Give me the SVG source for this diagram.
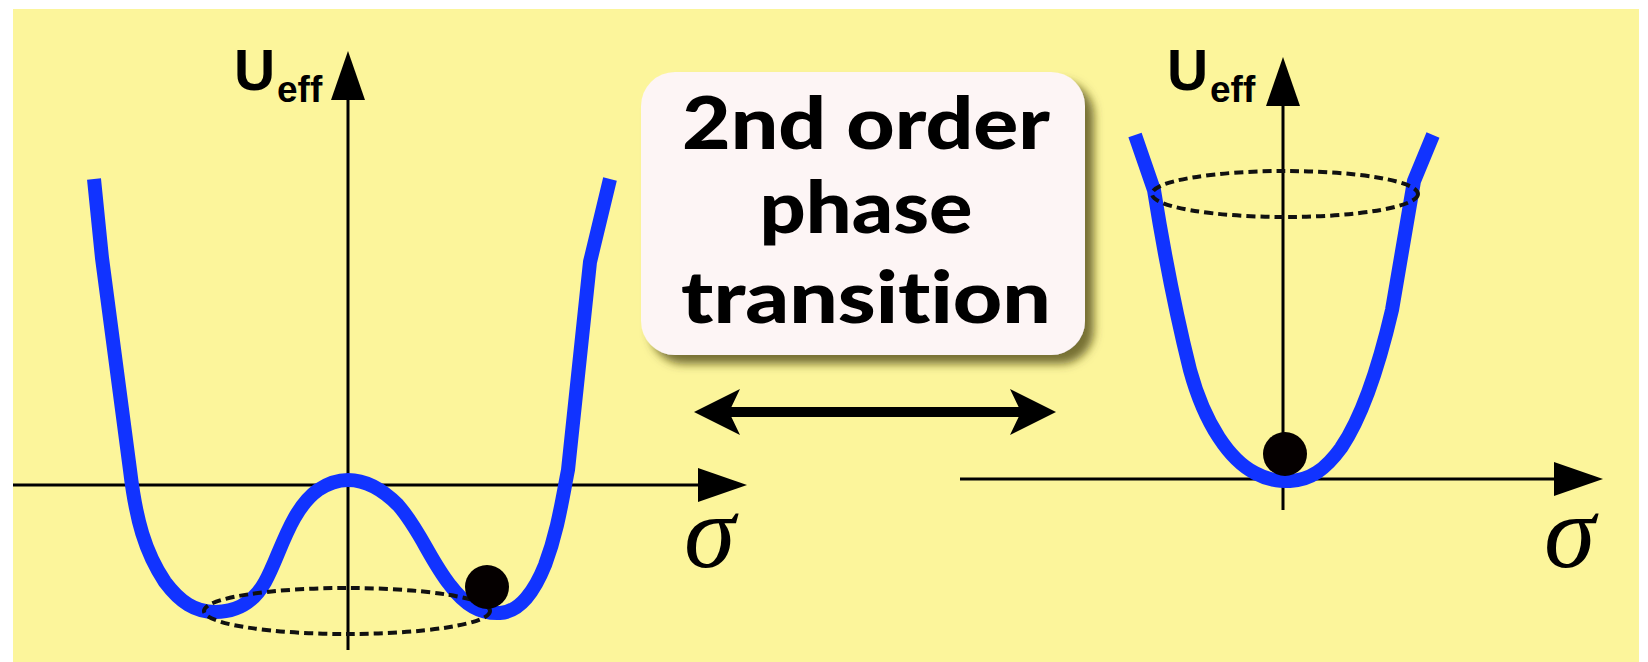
<svg xmlns="http://www.w3.org/2000/svg" width="1648" height="662" viewBox="0 0 1648 662">
  <style>
    .axis { stroke: #000; stroke-width: 3; fill: none; }
    .head { fill: #000; }
    .curve { stroke: #1133ff; stroke-width: 14; fill: none; stroke-linejoin: round; stroke-linecap: butt; }
    .ring { stroke: #111; stroke-width: 4; fill: none; stroke-dasharray: 9 5; }
    .ball { fill: #050000; }
    .ulab { font-family: "Liberation Sans", Arial, sans-serif; font-weight: bold; fill: #000; }
    .sig { font-family: "Liberation Serif", "Times New Roman", serif; font-style: italic; font-size: 104px; fill: #000; }
    .box-text { font-family: Lato, "Open Sans", sans-serif; font-weight: 900; font-size: 72px; fill: #000; text-anchor: middle; font-variant-ligatures: none; font-feature-settings: "liga" 0; }
  </style>
  <defs>
    <path id="axis-head" d="M0,0 L-17,49 L17,49 Z"/>
    <path id="dbl-head" d="M0,0 L46,-23 L35,0 L46,23 Z"/>
    <filter id="shadow" x="-10%" y="-10%" width="130%" height="140%">
      <feDropShadow dx="9" dy="9" stdDeviation="5" flood-color="#4a4410" flood-opacity="0.75"/>
    </filter>
  </defs>

  <rect x="13" y="9" width="1626" height="653" fill="#fcf59b"/>

  <g id="left-plot">
    <line class="axis" x1="13" y1="485" x2="705" y2="485"/>
    <use href="#axis-head" class="head" transform="translate(747,485) rotate(90)"/>
    <line class="axis" x1="348" y1="98" x2="348" y2="650"/>
    <use href="#axis-head" class="head" transform="translate(348,51)"/>
    <text class="ulab" x="234" y="90" font-size="57">U</text>
    <text class="ulab" x="277" y="102" font-size="37">eff</text>
    <text class="sig" x="684" y="567">σ</text>
    <path class="curve" d="M94,179 L102,258 L130,470 C136,520 145,552 165,582 C180,602 195,612 215,612 C240,612 255,600 265,582 C280,555 290,510 318,490 C330,482 340,480 348,480 C362,480 380,487 398,505 C420,530 430,560 450,585 C465,605 480,614 500,613 C520,612 535,590 545,565 C558,530 562,500 568,470 L590,262 L610,179"/>
    <ellipse class="ring" cx="347" cy="611" rx="143" ry="23"/>
    <circle class="ball" cx="487" cy="587" r="22"/>
  </g>

  <g id="right-plot">
    <line class="axis" x1="960" y1="479" x2="1560" y2="479"/>
    <use href="#axis-head" class="head" transform="translate(1603,479) rotate(90)"/>
    <line class="axis" x1="1283" y1="101" x2="1283" y2="510"/>
    <use href="#axis-head" class="head" transform="translate(1283,57)"/>
    <text class="ulab" x="1167" y="90" font-size="57">U</text>
    <text class="ulab" x="1210" y="102" font-size="37">eff</text>
    <text class="sig" x="1544" y="567">σ</text>
    <path class="curve" d="M1135,135 L1154,190 C1162,240 1175,310 1190,370 C1205,425 1230,460 1255,473 C1268,480 1278,481 1290,481 C1310,480 1325,470 1341,448 C1360,420 1378,370 1392,310 L1414,181 L1433,135"/>
    <ellipse class="ring" cx="1285" cy="194" rx="133" ry="23"/>
    <circle class="ball" cx="1285" cy="454" r="22"/>
  </g>

  <g id="label-box">
    <rect x="641" y="72" width="444" height="283" rx="34" ry="34" fill="#fdf5f5" filter="url(#shadow)"/>
    <text class="box-text" x="866" y="149" textLength="368" lengthAdjust="spacingAndGlyphs">2nd order</text>
    <text class="box-text" x="866" y="233" textLength="213" lengthAdjust="spacingAndGlyphs">phase</text>
    <text class="box-text" x="866" y="323" textLength="370" lengthAdjust="spacingAndGlyphs">transition</text>
  </g>

  <g id="connectors">
    <line x1="725" y1="412" x2="1025" y2="412" stroke="#000" stroke-width="10"/>
    <use href="#dbl-head" class="head" transform="translate(694,412)"/>
    <use href="#dbl-head" class="head" transform="translate(1056,412) rotate(180)"/>
  </g>
</svg>
